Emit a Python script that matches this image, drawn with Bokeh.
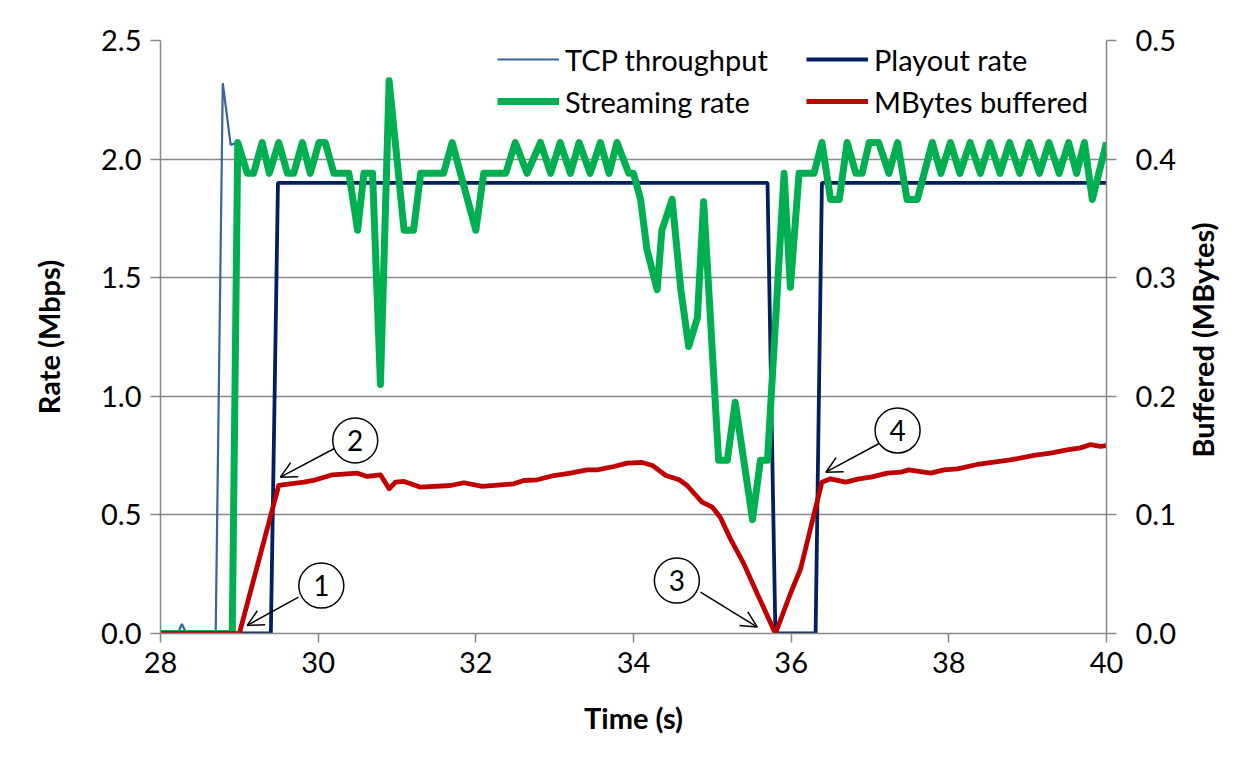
import math
from bokeh.plotting import figure
from bokeh.layouts import row
from bokeh.models import (Range1d, LinearAxis, Legend, LegendItem, Arrow, OpenHead,
                          FixedTicker, NumeralTickFormatter, Label, Div)
from bokeh.embed import file_html
from bokeh.resources import INLINE

# ---------------- data ----------------
stream_t = [28.0, 28.91, 28.98, 29.10, 29.18, 29.29, 29.38, 29.50, 29.61, 29.69, 29.80, 29.90,
            30.01, 30.09, 30.20, 30.39, 30.50, 30.58, 30.69, 30.79, 30.90, 31.09, 31.21, 31.30,
            31.59, 31.70, 32.00, 32.10, 32.38, 32.50, 32.65, 32.82, 32.95, 33.07, 33.20, 33.31,
            33.45, 33.58, 33.69, 33.79, 33.94, 34.00, 34.09, 34.17, 34.30, 34.36, 34.49, 34.60,
            34.70, 34.81, 34.89, 35.08, 35.19, 35.29, 35.51, 35.61, 35.70, 35.91, 35.99, 36.10,
            36.29, 36.39, 36.50, 36.61, 36.71, 36.82, 36.90, 36.99, 37.11, 37.24, 37.35, 37.47,
            37.60, 37.79, 37.90, 38.02, 38.14, 38.27, 38.40, 38.52, 38.65, 38.77, 38.90, 39.02,
            39.15, 39.27, 39.40, 39.52, 39.62, 39.72, 39.82, 40.0]
stream_v = [0.0, 0.0, 2.07, 1.94, 1.94, 2.07, 1.94, 2.07, 1.94, 1.94, 2.07, 1.94,
            2.07, 2.07, 1.94, 1.94, 1.70, 1.94, 1.94, 1.05, 2.33, 1.70, 1.70, 1.94,
            1.94, 2.07, 1.70, 1.94, 1.94, 2.07, 1.94, 2.07, 1.94, 2.07, 1.94, 2.07,
            1.94, 2.07, 1.94, 2.07, 1.94, 1.94, 1.83, 1.62, 1.45, 1.70, 1.83, 1.45,
            1.21, 1.33, 1.82, 0.73, 0.73, 0.975, 0.48, 0.73, 0.73, 1.94, 1.46, 1.94,
            1.94, 2.07, 1.83, 1.83, 2.07, 1.94, 1.94, 2.07, 2.07, 1.94, 2.07, 1.83,
            1.83, 2.07, 1.94, 2.07, 1.94, 2.07, 1.94, 2.07, 1.94, 2.07, 1.94, 2.07,
            1.94, 2.07, 1.94, 2.07, 1.94, 2.07, 1.83, 2.07]

# TCP throughput: visible only at the start, hidden behind the streaming rate afterwards
tcp_t = [28.0, 28.22, 28.27, 28.33, 28.70, 28.79, 28.89] + stream_t[2:]
tcp_v = [0.0, 0.0, 0.04, 0.0, 0.0, 2.32, 2.06] + stream_v[2:]

playout_t = [28.0, 29.40, 29.49, 35.70, 35.80, 36.31, 36.39, 40.0]
playout_v = [0.0, 0.0, 1.90, 1.90, 0.0, 0.0, 1.90, 1.90]

buf_t = [28.0, 29.0, 29.50, 29.82, 29.97, 30.18, 30.50, 30.62, 30.79, 30.90, 30.98, 31.09,
         31.30, 31.68, 31.85, 32.08, 32.48, 32.61, 32.78, 32.99, 33.20, 33.41, 33.54, 33.75,
         33.92, 34.11, 34.24, 34.41, 34.58, 34.68, 34.87, 35.00, 35.10, 35.23, 35.40, 35.57,
         35.80, 35.99, 36.12, 36.39, 36.50, 36.69, 36.86, 37.01, 37.22, 37.39, 37.49, 37.77,
         37.94, 38.11, 38.36, 38.57, 38.78, 39.08, 39.29, 39.50, 39.67, 39.80, 39.92, 40.0]
buf_v = [0.0, 0.0, 0.1248, 0.1276, 0.1296, 0.1338, 0.1352, 0.1324, 0.1338, 0.1220, 0.1276, 0.1282,
         0.1234, 0.1248, 0.1271, 0.1240, 0.1262, 0.1290, 0.1296, 0.1332, 0.1352, 0.1380, 0.1380, 0.1408,
         0.1436, 0.1442, 0.1417, 0.1332, 0.1296, 0.1248, 0.1107, 0.1065, 0.0981, 0.0798, 0.0587, 0.0335,
         0.0, 0.0335, 0.0546, 0.1276, 0.1304, 0.1276, 0.1304, 0.1318, 0.1352, 0.1360, 0.1380, 0.1352,
         0.1380, 0.1388, 0.1425, 0.1444, 0.1464, 0.1501, 0.1520, 0.1548, 0.1565, 0.1593, 0.1577, 0.1585]

x_ticks = [28, 30, 32, 34, 36, 38, 40]
rate_ticks = [0.0, 0.5, 1.0, 1.5, 2.0, 2.5]
buf_ticks = [0.0, 0.1, 0.2, 0.3, 0.4, 0.5]

# ---------------- styling ----------------
FONT = "Lato"
FS = "29px"
GRAY = "#888888"

p = figure(width=1180, height=770, x_range=Range1d(28, 40), y_range=Range1d(0, 2.5),
           output_backend="svg", toolbar_location=None,
           min_border_left=160, min_border_right=74, min_border_top=40, min_border_bottom=137)
p.extra_y_ranges = {"buf": Range1d(0, 0.5)}
p.outline_line_color = None
p.background_fill_color = "white"
p.border_fill_color = "white"

p.xgrid.visible = False
p.ygrid.ticker = FixedTicker(ticks=rate_ticks)
p.ygrid.grid_line_color = GRAY
p.ygrid.grid_line_width = 1.5

def style_axis(ax):
    ax.axis_line_color = GRAY
    ax.axis_line_width = 1.5
    ax.major_tick_line_color = GRAY
    ax.major_tick_line_width = 1.5
    ax.major_tick_in = 0
    ax.major_tick_out = 9
    ax.minor_tick_line_color = None
    ax.major_label_text_font = FONT
    ax.major_label_text_font_size = FS
    ax.major_label_text_color = "black"
    ax.axis_label_text_font = FONT
    ax.axis_label_text_font_size = FS
    ax.axis_label_text_font_style = "bold"
    ax.axis_label_text_color = "black"

xa = p.xaxis[0]
xa.ticker = FixedTicker(ticks=x_ticks)
xa.axis_label = "Time (s)"
style_axis(xa)
xa.major_label_standoff = 9
xa.axis_label_standoff = 24

ya = p.yaxis[0]
ya.ticker = FixedTicker(ticks=rate_ticks)
ya.formatter = NumeralTickFormatter(format="0.0")
ya.axis_label = "Rate (Mbps)"
style_axis(ya)
ya.major_tick_out = 10
ya.major_label_standoff = 9
ya.axis_label_standoff = 32

ra = LinearAxis(y_range_name="buf", ticker=FixedTicker(ticks=buf_ticks),
                formatter=NumeralTickFormatter(format="0.0"))
style_axis(ra)
ra.major_tick_out = 10
ra.major_label_standoff = 19
p.add_layout(ra, "right")

# ---------------- series ----------------
r_tcp = p.line(tcp_t, tcp_v, line_color="#3A649B", line_width=2.2)
r_play = p.line(playout_t, playout_v, line_color="#002060", line_width=3.8)
r_stream = p.line(stream_t, stream_v, line_color="#00B050", line_width=7, line_join="round")
r_buf = p.line(buf_t, buf_v, y_range_name="buf", line_color="#C00000", line_width=4.8,
               line_join="round")

def make_legend(items, x):
    lg = Legend(items=items, location=(x, 511), orientation="vertical",
                glyph_width=62, glyph_height=42, label_height=42, label_standoff=6,
                spacing=0, padding=0, margin=0,
                border_line_color=None, background_fill_alpha=0,
                label_text_font=FONT, label_text_font_size=FS, label_text_color="black")
    p.add_layout(lg, "center")

make_legend([LegendItem(label="TCP throughput", renderers=[r_tcp]),
             LegendItem(label="Streaming rate", renderers=[r_stream])], 337)
make_legend([LegendItem(label="Playout rate", renderers=[r_play]),
             LegendItem(label="MBytes buffered", renderers=[r_buf])], 646)

# ---------------- numbered call-outs ----------------
callouts = [
    ("1", 30.04, 0.202, 29.75, 0.153, 29.10, 0.034),
    ("2", 30.47, 0.814, 30.20, 0.779, 29.52, 0.659),
    ("3", 34.55, 0.223, 34.85, 0.174, 35.57, 0.027),
    ("4", 37.35, 0.856, 37.11, 0.800, 36.44, 0.680),
]
for txt, cx, cy, xs, ys, xe, ye in callouts:
    p.add_layout(Arrow(end=OpenHead(size=16, line_width=1.5, line_color="black"),
                       x_start=xs, y_start=ys, x_end=xe, y_end=ye,
                       line_color="black", line_width=1.5))
    p.scatter([cx], [cy], marker="circle", size=45, fill_color="white",
              line_color="black", line_width=1.5)
    p.add_layout(Label(x=cx, y=cy, text=txt, text_align="center", text_baseline="middle",
                       text_font=FONT, text_font_size="28px", text_color="black"))

# right-axis title reading bottom-to-top, as in the reference
right_title = Div(width=56, height=770, text=(
    '<div style="position:relative;width:56px;height:770px;">'
    '<span style="position:absolute;left:18px;top:335px;'
    'transform:translate(-50%,-50%) rotate(-90deg);white-space:nowrap;'
    'font-family:Lato;font-weight:bold;font-size:29px;color:black;">'
    'Buffered (MBytes)</span></div>'))

layout = row(p, right_title, spacing=0)
open("out.html", "w").write(file_html(layout, INLINE))
